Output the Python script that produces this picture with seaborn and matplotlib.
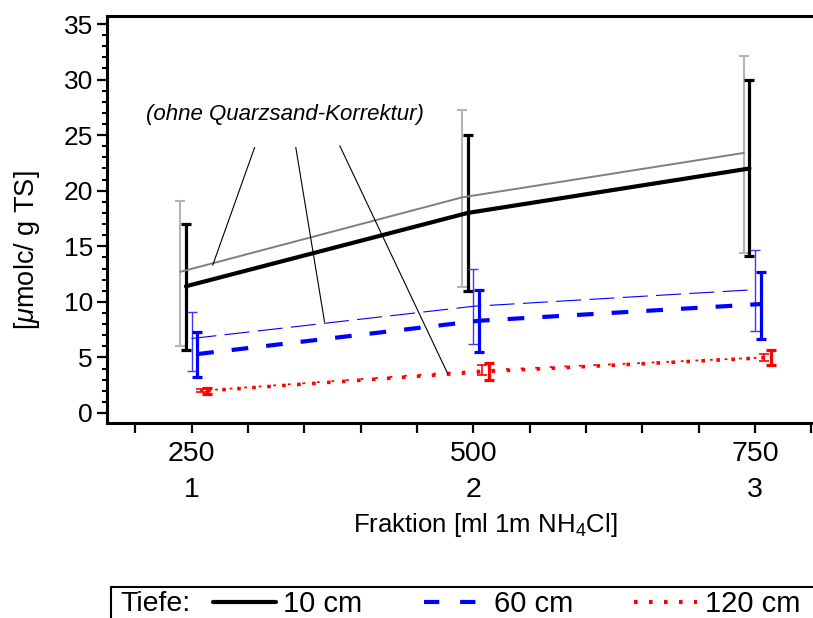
import numpy as np
import pandas as pd
import matplotlib
matplotlib.use("Agg")
import matplotlib.pyplot as plt
from matplotlib.lines import Line2D
from matplotlib.patches import Rectangle
import seaborn as sns

# --- data -----------------------------------------------------------------
fraction_ml = [250, 500, 750]
fraction_no = ["1", "2", "3"]

# 10 cm depth
mean_10 = [11.4, 18.0, 22.0]
low_10 = [5.7, 11.0, 14.1]
high_10 = [17.0, 25.0, 30.0]
# 10 cm depth, without quartz-sand correction
mean_10_raw = [12.7, 19.4, 23.4]
low_10_raw = [6.0, 11.3, 14.4]
high_10_raw = [19.1, 27.3, 32.1]

# 60 cm depth
mean_60 = [5.3, 8.3, 9.8]
low_60 = [3.2, 5.5, 6.7]
high_60 = [7.3, 11.1, 12.7]
# 60 cm depth, without correction
mean_60_raw = [6.7, 9.6, 11.1]
low_60_raw = [3.8, 6.2, 7.4]
high_60_raw = [9.1, 13.0, 14.7]

# 120 cm depth
mean_120 = [2.0, 3.75, 5.0]
low_120 = [1.7, 3.0, 4.3]
high_120 = [2.25, 4.5, 5.7]
# 120 cm depth, without correction
mean_120_raw = [2.0, 3.85, 5.0]
low_120_raw = [1.85, 3.4, 4.7]
high_120_raw = [2.15, 4.3, 5.3]

legend_labels = ["10 cm", "60 cm", "120 cm"]

# --- style ----------------------------------------------------------------
sns.set_style("ticks")
plt.rcParams["font.family"] = ["Liberation Sans", "DejaVu Sans"]
plt.rcParams["mathtext.fontset"] = "custom"
plt.rcParams["mathtext.rm"] = "Liberation Sans"
plt.rcParams["mathtext.it"] = "Liberation Sans:italic"
plt.rcParams["lines.scale_dashes"] = False
for key in ["text.color", "axes.labelcolor", "xtick.color", "ytick.color",
            "axes.edgecolor"]:
    plt.rcParams[key] = "black"

fig = plt.figure(figsize=(8.13, 6.18), dpi=100)
ax = fig.add_axes([107 / 813, 195 / 618, 706 / 813, 407 / 618])

series = [
    # mean, low, high, x-shift, color, lw, ebar color, ebar lw, dashes, capsize
    (mean_10_raw, low_10_raw, high_10_raw, -10, "#7f7f7f", 1.4, "#b4b4b4", 1.5, None, 3.3),
    (mean_10, low_10, high_10, -5, "black", 3.0, "black", 2.3, None, 3.6),
    (mean_60_raw, low_60_raw, high_60_raw, 0, "#0000ff", 0.8, "#3a3aff", 1.0, (18, 6), 3.4),
    (mean_60, low_60, high_60, 5, "#0000ff", 3.0, "#0000ff", 2.3, (12, 13), 3.6),
    (mean_120_raw, low_120_raw, high_120_raw, 8, "#ff0000", 1.3, "#ff0000", 1.2, (2, 8.5), 3.4),
    (mean_120, low_120, high_120, 14, "#ff0000", 2.6, "#ff0000", 2.3, (2.6, 8.2), 3.6),
]

for mean, low, high, shift, color, lw, ecolor, elw, dashes, cap in series:
    xs = np.array(fraction_ml) + shift
    m = np.array(mean)
    yerr = [m - np.array(low), np.array(high) - m]
    ax.errorbar(xs, m, yerr=yerr, fmt="none", ecolor=ecolor, elinewidth=elw,
                capsize=cap, capthick=elw, zorder=2)
    df = pd.DataFrame({"x": xs, "y": m})
    sns.lineplot(data=df, x="x", y="y", ax=ax, color=color, linewidth=lw,
                 errorbar=None, zorder=3)
    if dashes is not None:
        ax.lines[-1].set_dashes(dashes)

# leader lines for the uncorrected curves
note_x, note_y = 332.7, 26.9
ax.text(note_x, note_y, "(ohne Quarzsand-Korrektur)", ha="center", va="center",
        fontsize=16, style="italic")
for (x0, y0), (x1, y1) in [((306, 23.9), (268.8, 13.3)),
                           ((342.5, 23.9), (368, 8.2)),
                           ((381.5, 24.05), (477, 3.6))]:
    ax.annotate("", xy=(x1, y1), xytext=(x0, y0),
                arrowprops=dict(arrowstyle="-", color="black", lw=0.8,
                                shrinkA=0, shrinkB=0))

# --- axes -----------------------------------------------------------------
ax.set_xlim(175, 801.4)
ax.set_ylim(-0.9, 35.72)
ax.set_yticks(np.arange(0, 36, 5))
ax.set_yticks(np.arange(0, 36, 1), minor=True)
ax.set_xticks(fraction_ml)
ax.set_xticklabels([f"{v}\n{n}" for v, n in zip(fraction_ml, fraction_no)],
                   linespacing=1.5)
ax.set_xticks(np.arange(200, 801, 50), minor=True)

ax.tick_params(axis="y", which="major", direction="out", length=7.2, width=1.6,
               labelsize=19, pad=3)
ax.tick_params(axis="y", which="minor", direction="out", length=3.6, width=1.5)
ax.tick_params(axis="x", which="both", direction="out", length=7.2, width=1.6,
               labelsize=20.5, pad=6)

for side in ["left", "bottom", "top"]:
    ax.spines[side].set_linewidth(2.2)
ax.spines["right"].set_visible(False)

ax.set_xlabel("Fraktion [ml 1m NH$_4$Cl]", fontsize=18.5)
ax.xaxis.set_label_coords((485 - 107) / 706, -(511 - 423) / 407)
ax.set_ylabel("[$\\mu$molc/ g TS]", fontsize=19.5)
ax.yaxis.set_label_coords(-(107 - 42) / 706, (423 - 250) / 407)

# --- legend ---------------------------------------------------------------
fig.patches.append(Rectangle((111 / 813, -0.05), 0.9, (618 - 587) / 618 + 0.05,
                             transform=fig.transFigure, fill=False,
                             edgecolor="black", linewidth=1.5))
fig.text(120 / 813, 1 - 604 / 618, "Tiefe:", fontsize=20.5, va="center", ha="left")
handles = [
    Line2D([], [], color="black", lw=3.0),
    Line2D([], [], color="#0000ff", lw=3.0, dashes=(11, 15)),
    Line2D([], [], color="#ff0000", lw=3.0, dashes=(2.6, 8.2)),
]
fig.legend(handles, legend_labels, loc="center left",
           bbox_to_anchor=(213 / 813, 1 - 604 / 618), ncol=3, frameon=False,
           fontsize=21, handlelength=2.16, handletextpad=0.25, columnspacing=2.1,
           borderpad=0, borderaxespad=0)

fig.savefig("out.png", dpi=100)
